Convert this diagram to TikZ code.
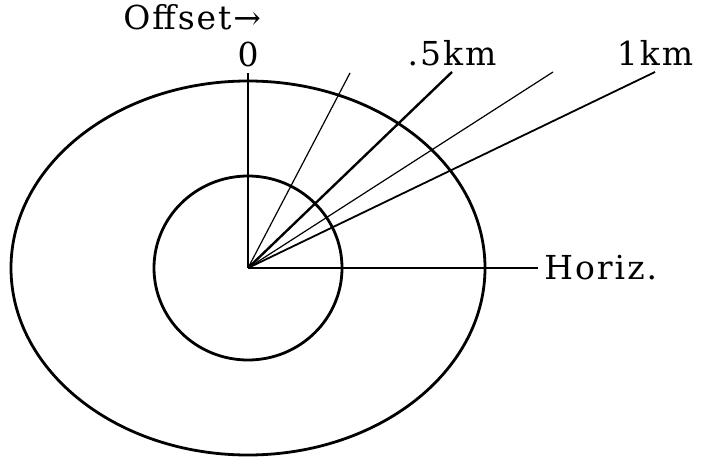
\documentclass[tikz,border=0pt]{standalone}
\usepackage{fontspec}
\setmainfont{DejaVu Serif}[LetterSpace=6]
\usetikzlibrary{positioning}

\begin{document}
\begin{tikzpicture}[x=0.5pt,y=-0.5pt,
    lbl/.style={font=\fontsize{16.5}{18}\selectfont, inner sep=3pt},
    ring/.style={line width=1.4pt},
    ray/.style={line width=0.6pt},
    bigray/.style={line width=1.2pt}]
  \useasboundingbox (0,0) rectangle (704,458);
  \coordinate (O) at (248,268);
  % rings
  \draw[ring] (O) ellipse [x radius=118.5pt, y radius=93.5pt];
  \draw[ring] (O) ellipse [x radius=47pt, y radius=46pt];
  % ray ends
  \coordinate (e0) at (248,73);
  \coordinate (e1) at (350,73);
  \coordinate (e2) at (452,72);
  \coordinate (e3) at (553,72);
  \coordinate (e4) at (655,72);
  \node[lbl, above=0pt of e0] (zero) {0};
  \node[lbl, above=0pt of e2] (half) {.5km};
  \node[lbl, above=0pt of e4] (onekm) {1km};
  \node[lbl, anchor=west] (horiz) at (538,268) {Horiz.};
  \node[lbl, anchor=base west, inner sep=0pt] (offset) at (123,30) {Offset→};
  % rays
  \draw[line width=0.9pt] (O) -- (zero.south);
  \draw[ray] (O) -- (e1);
  \draw[bigray] (O) -- (half.south);
  \draw[ray] (O) -- (e3);
  \draw[line width=0.9pt] (O) -- (onekm.south);
  \draw[line width=0.9pt] (O) -- (horiz.west);
\end{tikzpicture}
\end{document}
